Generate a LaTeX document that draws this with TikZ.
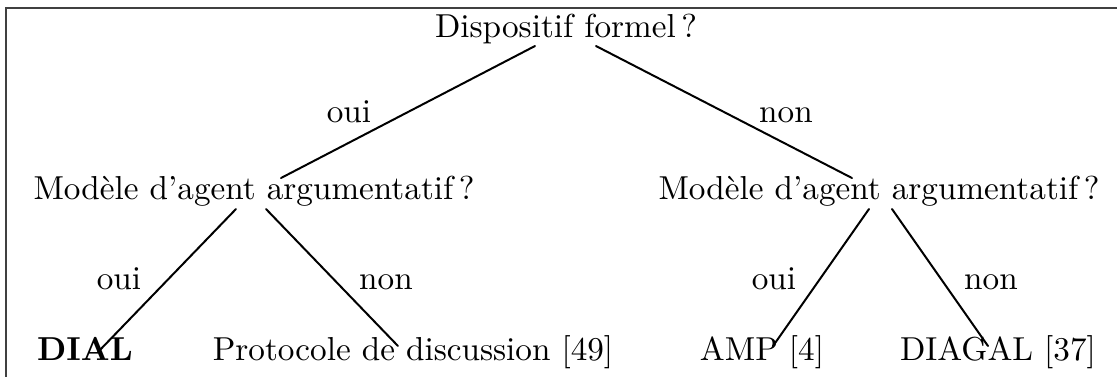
\documentclass[tikz,border=0pt]{standalone}
\begin{document}
\begin{tikzpicture}[x=0.3012pt,y=-0.3012pt,
  txt/.style={anchor=base,inner sep=0pt,font=\fontsize{10}{12}\selectfont},
  lbl/.style={txt},
  edge/.style={line width=0.6pt,line cap=round},
  frame/.style={line width=0.45pt,draw=black!75}]
\useasboundingbox (0,0) rectangle (1117,376);
\begin{scope}
\clip (0,0) rectangle (1117,376);
\draw[frame] (6,400) -- (6,8) -- (1140,8);
\end{scope}
% nodes
\node[txt] (root) at (566,37) {Dispositif formel\,?};
\node[txt] (lm) at (254,199) {Modèle d'agent argumentatif\,?};
\node[txt] (rm) at (879,199) {Modèle d'agent argumentatif\,?};
\node[txt] (dial) at (85,360) {\textbf{DIAL}};
\node[txt] (proto) at (413,360) {Protocole de discussion [49]};
\node[txt] (amp) at (762,360) {AMP [4]};
\node[txt] (diagal) at (998,360) {DIAGAL [37]};
% labels
\node[lbl] (l1) at (349,122) {oui};
\node[lbl] (l2) at (786,122) {non};
\node[lbl] (l3) at (119,289) {oui};
\node[lbl] (l4) at (386,289) {non};
\node[lbl] (l5) at (774,289) {oui};
\node[lbl] (l6) at (991,289) {non};
% edges
\draw[edge] ([shift={(-31,9)}]root.base) -- ([shift={(27,-21)}]lm.base);
\draw[edge] ([shift={(30,9)}]root.base) -- ([shift={(-27,-21)}]rm.base);
\draw[edge] ([shift={(-18,10)}]lm.base) -- ([shift={(13,-8)}]dial.base);
\draw[edge] ([shift={(12,10)}]lm.base) -- ([shift={(-15,-14)}]proto.base);
\draw[edge] ([shift={(-10,10)}]rm.base) -- ([shift={(11,-14)}]amp.base);
\draw[edge] ([shift={(13,10)}]rm.base) -- ([shift={(-10,-14)}]diagal.base);
\end{tikzpicture}
\end{document}
